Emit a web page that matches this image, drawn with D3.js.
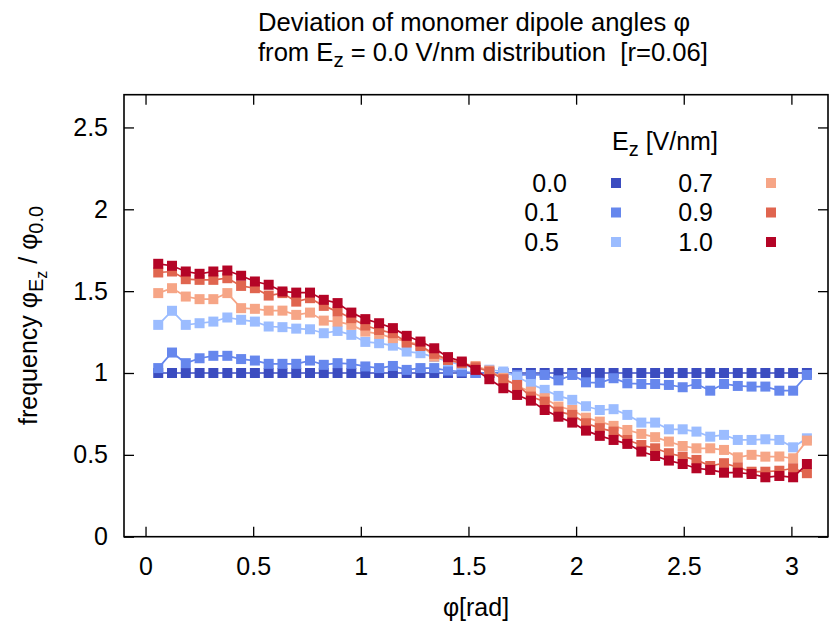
<!DOCTYPE html>
<html>
<head>
<meta charset="utf-8">
<script src="https://cdn.jsdelivr.net/npm/d3@7"></script>
<style>
  body { margin: 0; background: #fff; }
  svg text { font-family: "Liberation Sans", Arial, sans-serif; fill: #000; }
</style>
</head>
<body>
<div id="vis"></div>
<script>
// angle bins [rad]
const phi = [0.059, 0.123, 0.187, 0.251, 0.315, 0.380, 0.444, 0.508, 0.572, 0.636,
    0.700, 0.764, 0.828, 0.892, 0.956, 1.021, 1.085, 1.149, 1.213, 1.277,
    1.341, 1.405, 1.469, 1.533, 1.597, 1.662, 1.726, 1.790, 1.854, 1.918,
    1.982, 2.046, 2.110, 2.174, 2.238, 2.303, 2.367, 2.431, 2.495, 2.559,
    2.623, 2.687, 2.751, 2.815, 2.879, 2.944, 3.008, 3.072];

const ez00 = [1, 1, 1, 1, 1, 1, 1, 1, 1, 1, 1, 1, 1, 1, 1, 1, 1, 1, 1, 1, 1, 1, 1, 1,
    1, 1, 1, 1, 1, 1, 1, 1, 1, 1, 1, 1, 1, 1, 1, 1, 1, 1, 1, 1, 1, 1, 1, 1];
const ez01 = [1.03, 1.125, 1.06, 1.09, 1.105, 1.105, 1.085, 1.076, 1.056, 1.056,
    1.056, 1.076, 1.05, 1.06, 1.056, 1.04, 1.03, 1.043, 1.019, 1.03,
    1.03, 1.015, 1.009, 1.0, 1.0, 1.0, 0.988, 0.988, 0.988, 0.955,
    0.988, 0.943, 0.94, 0.968, 0.937, 0.933, 0.933, 0.927, 0.913, 0.933,
    0.892, 0.933, 0.921, 0.917, 0.917, 0.892, 0.892, 0.988];
const ez05 = [1.294, 1.38, 1.294, 1.304, 1.314, 1.339, 1.325, 1.314, 1.284, 1.28,
    1.271, 1.267, 1.243, 1.257, 1.233, 1.19, 1.182, 1.167, 1.131, 1.121,
    1.097, 1.07, 1.05, 1.03, 1.02, 1.009, 0.978, 0.933, 0.897, 0.86,
    0.836, 0.797, 0.774, 0.779, 0.744, 0.697, 0.697, 0.656, 0.656, 0.642,
    0.611, 0.622, 0.591, 0.591, 0.595, 0.591, 0.546, 0.601];
const ez07 = [1.488, 1.518, 1.467, 1.451, 1.451, 1.488, 1.396, 1.392, 1.381, 1.381,
    1.355, 1.369, 1.32, 1.314, 1.294, 1.253, 1.239, 1.213, 1.192, 1.172,
    1.1, 1.08, 1.06, 1.043, 1.015, 0.97, 0.921, 0.886, 0.846, 0.795,
    0.774, 0.727, 0.703, 0.677, 0.652, 0.628, 0.608, 0.581, 0.554, 0.54,
    0.54, 0.53, 0.485, 0.5, 0.489, 0.49, 0.479, 0.587];
const ez09 = [1.614, 1.62, 1.573, 1.569, 1.569, 1.579, 1.532, 1.518, 1.473, 1.488,
    1.436, 1.457, 1.41, 1.375, 1.335, 1.29, 1.263, 1.243, 1.186, 1.165,
    1.117, 1.08, 1.06, 1.035, 1.009, 0.962, 0.927, 0.856, 0.825, 0.764,
    0.744, 0.693, 0.663, 0.642, 0.591, 0.56, 0.54, 0.51, 0.489, 0.469,
    0.432, 0.449, 0.424, 0.397, 0.397, 0.403, 0.418, 0.388];
const ez10 = [1.667, 1.655, 1.62, 1.606, 1.62, 1.626, 1.594, 1.559, 1.539, 1.498,
    1.491, 1.491, 1.447, 1.427, 1.369, 1.329, 1.304, 1.274, 1.227, 1.192,
    1.151, 1.097, 1.07, 1.019, 0.962, 0.907, 0.866, 0.831, 0.774, 0.733,
    0.697, 0.648, 0.616, 0.591, 0.567, 0.52, 0.493, 0.465, 0.444, 0.418,
    0.408, 0.391, 0.391, 0.383, 0.363, 0.371, 0.363, 0.444];

const fieldLabels = ["0.0", "0.1", "0.5", "0.7", "0.9", "1.0"];
const fieldColors = ["#3b4cc0", "#6687ed", "#9bbcff", "#f6a586", "#e0654f", "#b40426"];
const seriesValues = [ez00, ez01, ez05, ez07, ez09, ez10];

const xTicks = [0, 0.5, 1, 1.5, 2, 2.5, 3];
const yTicks = [0, 0.5, 1, 1.5, 2, 2.5];

(function() {
    const width = 829
    const height = 625
    const left = 124, right = 828, top = 94.7, bottom = 536.7
    const fs = 25
    const fsTitle = 25.6

    const svg = d3.select("#vis")
        .append("svg")
        .attr("width", width)
        .attr("height", height)

    const x = d3.scaleLinear().domain([-0.1, 3.17]).range([left, right])
    const y = d3.scaleLinear().domain([0, 2.7]).range([bottom, top])

    // axes: inward ticks, mirrored on top / right
    const gx = svg.append("g").attr("transform", `translate(0,${bottom})`)
        .call(d3.axisBottom(x).tickValues(xTicks).tickFormat(d => String(d))
            .tickSizeInner(-10).tickSizeOuter(0).tickPadding(21))
    const gy = svg.append("g").attr("transform", `translate(${left},0)`)
        .call(d3.axisLeft(y).tickValues(yTicks).tickFormat(d => String(d))
            .tickSizeInner(-10).tickSizeOuter(0).tickPadding(16))
    const gt = svg.append("g").attr("transform", `translate(0,${top})`)
        .call(d3.axisTop(x).tickValues(xTicks).tickFormat("").tickSizeInner(-10).tickSizeOuter(0))
    const gr = svg.append("g").attr("transform", `translate(${right},0)`)
        .call(d3.axisRight(y).tickValues(yTicks).tickFormat("").tickSizeInner(-10).tickSizeOuter(0))

    ;[gx, gy, gt, gr].forEach(g => {
        g.select(".domain").remove()
        g.selectAll(".tick line").attr("stroke", "#000").attr("stroke-width", 1.3)
        g.selectAll(".tick text").attr("font-size", fs).attr("fill", "#000")
            .style("font-family", "'Liberation Sans', Arial, sans-serif")
    })

    // plot border
    svg.append("rect")
        .attr("x", left).attr("y", top)
        .attr("width", right - left).attr("height", bottom - top)
        .attr("fill", "none").attr("stroke", "#000").attr("stroke-width", 1.6)

    // series: lines + square points
    const line = d3.line().x((d, i) => x(phi[i])).y(d => y(d))
    const ps = 10
    seriesValues.forEach((vals, k) => {
        const g = svg.append("g")
        g.append("path")
            .attr("d", line(vals))
            .attr("fill", "none")
            .attr("stroke", fieldColors[k])
            .attr("stroke-width", 1.7)
        g.selectAll("rect")
            .data(vals)
            .join("rect")
            .attr("x", (d, i) => x(phi[i]) - ps / 2)
            .attr("y", d => y(d) - ps / 2)
            .attr("width", ps)
            .attr("height", ps)
            .attr("fill", fieldColors[k])
    })

    // title
    const t1 = svg.append("text").attr("x", 258).attr("y", 31).attr("font-size", fsTitle)
    t1.text("Deviation of monomer dipole angles \u03c6")
    const t2 = svg.append("text").attr("x", 258).attr("y", 61).attr("font-size", fsTitle)
        .style("white-space", "pre")
    t2.append("tspan").text("from E")
    t2.append("tspan").attr("font-size", fsTitle * 0.8).attr("dy", 6).text("z")
    t2.append("tspan").attr("dy", -6).text(" = 0.0 V/nm distribution  [r=0.06]")

    // axis labels
    svg.append("text")
        .attr("x", 476).attr("y", 616)
        .attr("text-anchor", "middle")
        .attr("font-size", fs)
        .text("\u03c6[rad]")

    const yl = svg.append("text")
        .attr("transform", "translate(37,425) rotate(-90)")
        .attr("font-size", fs)
    yl.append("tspan").text("frequency \u03c6")
    yl.append("tspan").attr("font-size", fs * 0.8).attr("dy", 6).text("E")
    yl.append("tspan").attr("font-size", fs * 0.64).attr("dy", 4).text("z")
    yl.append("tspan").attr("dy", -10).text(" / \u03c6")
    yl.append("tspan").attr("font-size", fs * 0.8).attr("dy", 6).text("0.0")

    // legend
    const lt = svg.append("text").attr("x", 612).attr("y", 150).attr("font-size", fs)
    lt.append("tspan").text("E")
    lt.append("tspan").attr("font-size", fs * 0.8).attr("dy", 6).text("z")
    lt.append("tspan").attr("dy", -6).text(" [V/nm]")

    const rowY = [183, 212.5, 242]
    fieldLabels.forEach((lab, k) => {
        const col = Math.floor(k / 3), row = k % 3
        const tx = col === 0 ? (k === 0 ? 567 : 559) : 713
        const mx = col === 0 ? 616 : 771
        svg.append("text")
            .attr("x", tx).attr("y", rowY[row])
            .attr("dy", "0.35em")
            .attr("text-anchor", "end")
            .attr("font-size", fs)
            .text(lab)
        svg.append("rect")
            .attr("x", mx - ps / 2).attr("y", rowY[row] - ps / 2)
            .attr("width", ps).attr("height", ps)
            .attr("fill", fieldColors[k])
    })
})();
</script>
</body>
</html>
